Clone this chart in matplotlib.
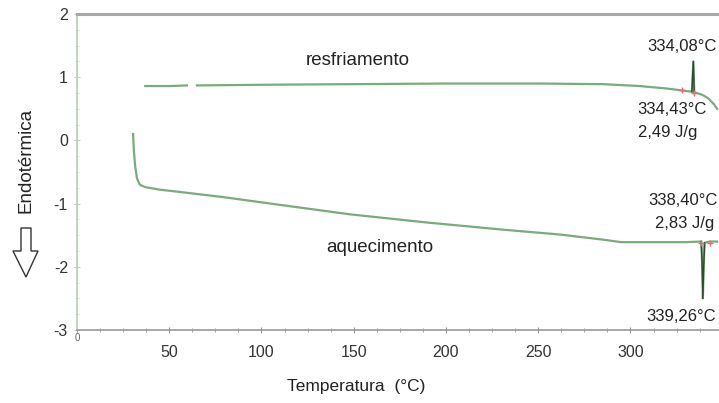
import numpy as np
import matplotlib
matplotlib.use("Agg")
import matplotlib.pyplot as plt
from matplotlib.patches import Polygon

plt.rcParams["font.family"] = ["Liberation Sans", "DejaVu Sans"]

# ── data ─────────────────────────────────────────────────────
heat_t = [30.4, 30.8, 31.5, 32.5, 34.0, 37.0, 45.0, 57.0, 80.0, 110.0, 148.0,
          190.0, 230.0, 262.0, 285.0, 295.0, 310.0, 330.0, 338.4, 338.9,
          339.26, 339.7, 340.2, 343.0, 347.0]
heat_y = [0.10, -0.15, -0.40, -0.60, -0.70, -0.74, -0.78, -0.82, -0.90, -1.02,
          -1.17, -1.30, -1.41, -1.49, -1.57, -1.61, -1.61, -1.61, -1.60, -2.00,
          -2.50, -2.00, -1.62, -1.60, -1.60]

cool_t = [37.0, 50.0, 59.6, np.nan, 65.0, 100.0, 150.0, 200.0, 250.0, 285.0,
          305.0, 320.0, 328.0, 333.3, 334.08, 334.6, 336.0, 339.0, 342.0,
          345.0, 347.0]
cool_y = [0.86, 0.86, 0.87, np.nan, 0.87, 0.88, 0.89, 0.90, 0.90, 0.89,
          0.86, 0.82, 0.79, 0.77, 1.25, 0.76, 0.75, 0.72, 0.67, 0.58, 0.50]

marks_t = [328.0, 334.4, 338.4, 343.0]
marks_y = [0.80, 0.75, -1.62, -1.62]

xticks = [0, 50, 100, 150, 200, 250, 300]
yticks = [2, 1, 0, -1, -2, -3]

# ── figure ───────────────────────────────────────────────────
fig = plt.figure(figsize=(7.19, 4.03), dpi=100, facecolor="white")
ax = fig.add_axes([77 / 719, 73 / 403, 642 / 719, 316 / 403])

line_c = "#7aab7a"
ax.plot(heat_t, heat_y, color=line_c, lw=1.6, solid_joinstyle="round")
ax.plot(cool_t, cool_y, color=line_c, lw=1.6, solid_joinstyle="round")
# darker cores of the peaks
ax.plot(heat_t[18:23], heat_y[18:23], color="#2e4a30", lw=1.0)
ax.plot(cool_t[13:16], cool_y[13:16], color="#2e4a30", lw=1.0)
ax.plot(marks_t, marks_y, "+", color="#e07070", ms=5, mew=1.0, ls="none")

ax.set_xlim(0, 348)
ax.set_ylim(-3, 2)

ax.set_xticks(xticks)
ax.set_xticklabels([""] + [str(v) for v in xticks[1:]], fontsize=11.5, color="#333")
ax.set_xticks(np.arange(0, 348, 12.5), minor=True)
ax.set_yticks(yticks)
ax.set_yticklabels([str(v) for v in yticks], fontsize=11.5, color="#333")
ax.set_yticks(np.arange(-3, 2.01, 0.25), minor=True)
ax.tick_params(axis="x", which="major", direction="inout", length=5,
               color="#999", pad=8)
ax.tick_params(axis="x", which="minor", direction="inout", length=3, color="#999")
ax.tick_params(axis="y", which="major", direction="inout", length=5,
               color="#b9d4b4", pad=4)
ax.tick_params(axis="y", which="minor", direction="inout", length=3, color="#c8dcc4")
ax.text(0, -3.13, "0", fontsize=7, color="#666", ha="center", va="center")

ax.spines["right"].set_visible(False)
ax.spines["top"].set_color("#a8a8a8")
ax.spines["top"].set_linewidth(2.2)
ax.spines["left"].set_color("#bcd8b6")
ax.spines["left"].set_linewidth(1.4)
ax.spines["bottom"].set_color("#9a9a9a")
ax.spines["bottom"].set_linewidth(1.2)

# ── annotations ──────────────────────────────────────────────
tc = "#222"
ax.text(152, 1.27, "resfriamento", fontsize=13.5, color=tc, ha="center", va="center")
ax.text(164, -1.70, "aquecimento", fontsize=13.5, color=tc, ha="center", va="center")
ax.text(346.5, 1.49, "334,08°C", fontsize=12, color=tc, ha="right", va="center")
ax.text(303.5, 0.49, "334,43°C", fontsize=12, color=tc, ha="left", va="center")
ax.text(304.0, 0.13, "2,49 J/g", fontsize=12, color=tc, ha="left", va="center")
ax.text(347.5, -0.95, "338,40°C", fontsize=12, color=tc, ha="right", va="center")
ax.text(345.5, -1.31, "2,83 J/g", fontsize=12, color=tc, ha="right", va="center")
ax.text(346.5, -2.78, "339,26°C", fontsize=12, color=tc, ha="right", va="center")

fig.text(356 / 719, 1 - 386 / 403, "Temperatura  (°C)", fontsize=12.5,
         color=tc, ha="center", va="center")
fig.text(26 / 719, 1 - 160 / 403, "Endotérmica", fontsize=13.5, color=tc,
         rotation=90, ha="center", va="center")

# hollow downward arrow under the y label
arrow_px = [(21, 228), (31, 228), (31, 251), (38, 251), (26, 277), (13, 251), (21, 251)]
arrow = Polygon([(x / 719, 1 - y / 403) for x, y in arrow_px], closed=True,
                transform=fig.transFigure, facecolor="white", edgecolor="#333", lw=1.0)
fig.patches.append(arrow)

fig.savefig("out.png", dpi=100, facecolor="white")
